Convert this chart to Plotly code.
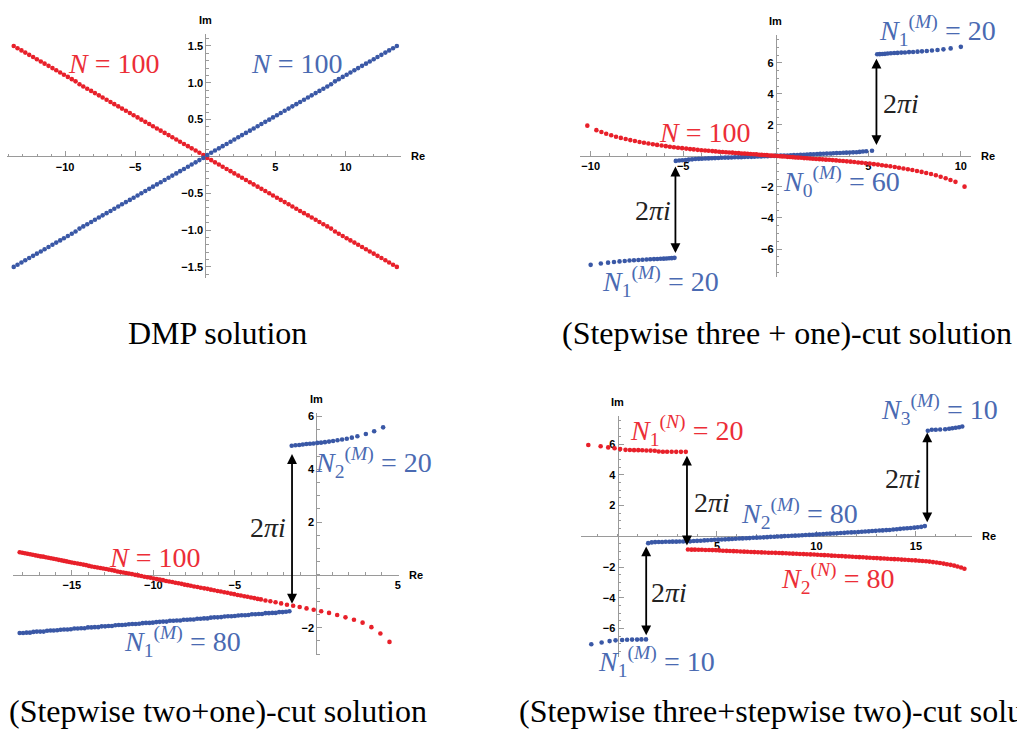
import plotly.graph_objects as go

W, H = 1017, 729

# ---------------- data ----------------
# Panel 1: DMP solution
dmp_re = [-13.66, -13.39, -13.11, -12.84, -12.56, -12.28, -12.01, -11.73, -11.46, -11.18,
          -10.90, -10.63, -10.35, -10.08, -9.80, -9.52, -9.25, -8.97, -8.70, -8.42,
          -8.14, -7.87, -7.59, -7.32, -7.04, -6.76, -6.49, -6.21, -5.94, -5.66,
          -5.38, -5.11, -4.83, -4.56, -4.28, -4.00, -3.73, -3.45, -3.18, -2.90,
          -2.62, -2.35, -2.07, -1.80, -1.52, -1.24, -0.97, -0.69, -0.42, -0.14,
          0.14, 0.42, 0.69, 0.97, 1.24, 1.52, 1.80, 2.07, 2.35, 2.62,
          2.90, 3.18, 3.45, 3.73, 4.00, 4.28, 4.56, 4.83, 5.11, 5.38,
          5.66, 5.94, 6.21, 6.49, 6.76, 7.04, 7.32, 7.59, 7.87, 8.14,
          8.42, 8.70, 8.97, 9.25, 9.52, 9.80, 10.08, 10.35, 10.63, 10.90,
          11.18, 11.46, 11.73, 12.01, 12.28, 12.56, 12.84, 13.11, 13.39, 13.66]
dmp_im_m = [-1.50, -1.47, -1.44, -1.41, -1.38, -1.35, -1.32, -1.29, -1.26, -1.23,
            -1.20, -1.17, -1.14, -1.11, -1.08, -1.05, -1.02, -0.98, -0.95, -0.92,
            -0.89, -0.86, -0.83, -0.80, -0.77, -0.74, -0.71, -0.68, -0.65, -0.62,
            -0.59, -0.56, -0.53, -0.50, -0.47, -0.44, -0.41, -0.38, -0.35, -0.32,
            -0.29, -0.26, -0.23, -0.20, -0.17, -0.14, -0.11, -0.08, -0.05, -0.02,
            0.02, 0.05, 0.08, 0.11, 0.14, 0.17, 0.20, 0.23, 0.26, 0.29,
            0.32, 0.35, 0.38, 0.41, 0.44, 0.47, 0.50, 0.53, 0.56, 0.59,
            0.62, 0.65, 0.68, 0.71, 0.74, 0.77, 0.80, 0.83, 0.86, 0.89,
            0.92, 0.95, 0.98, 1.02, 1.05, 1.08, 1.11, 1.14, 1.17, 1.20,
            1.23, 1.26, 1.29, 1.32, 1.35, 1.38, 1.41, 1.44, 1.47, 1.50]
dmp_im_n = [1.50, 1.47, 1.44, 1.41, 1.38, 1.35, 1.32, 1.29, 1.26, 1.23,
            1.20, 1.17, 1.14, 1.11, 1.08, 1.05, 1.02, 0.98, 0.95, 0.92,
            0.89, 0.86, 0.83, 0.80, 0.77, 0.74, 0.71, 0.68, 0.65, 0.62,
            0.59, 0.56, 0.53, 0.50, 0.47, 0.44, 0.41, 0.38, 0.35, 0.32,
            0.29, 0.26, 0.23, 0.20, 0.17, 0.14, 0.11, 0.08, 0.05, 0.02,
            -0.02, -0.05, -0.08, -0.11, -0.14, -0.17, -0.20, -0.23, -0.26, -0.29,
            -0.32, -0.35, -0.38, -0.41, -0.44, -0.47, -0.50, -0.53, -0.56, -0.59,
            -0.62, -0.65, -0.68, -0.71, -0.74, -0.77, -0.80, -0.83, -0.86, -0.89,
            -0.92, -0.95, -0.98, -1.02, -1.05, -1.08, -1.11, -1.14, -1.17, -1.20,
            -1.23, -1.26, -1.29, -1.32, -1.35, -1.38, -1.41, -1.44, -1.47, -1.50]

# Panel 2: (stepwise three + one)-cut
s31_n_re = [-10.18, -9.69, -9.42, -9.16, -8.89, -8.63, -8.37, -8.11, -7.86, -7.61,
            -7.36, -7.12, -6.88, -6.64, -6.41, -6.17, -5.94, -5.72, -5.50, -5.28,
            -5.06, -4.84, -4.63, -4.43, -4.22, -4.02, -3.82, -3.63, -3.43, -3.25,
            -3.06, -2.87, -2.69, -2.52, -2.34, -2.17, -2.00, -1.84, -1.68, -1.52,
            -1.36, -1.20, -1.05, -0.90, -0.76, -0.62, -0.48, -0.34, -0.21, -0.08,
            0.09, 0.22, 0.35, 0.49, 0.63, 0.77, 0.92, 1.06, 1.21, 1.37,
            1.53, 1.69, 1.85, 2.01, 2.18, 2.36, 2.53, 2.71, 2.89, 3.07,
            3.26, 3.45, 3.64, 3.84, 4.04, 4.24, 4.45, 4.65, 4.86,
            5.08, 5.30, 5.52, 5.74, 5.96, 6.19, 6.43, 6.66, 6.90, 7.14,
            7.38, 7.63, 7.88, 8.13, 8.39, 8.65, 8.91, 9.18, 9.44, 9.71, 10.20]
s31_n_im = [1.95, 1.66, 1.54, 1.43, 1.33, 1.24, 1.16, 1.09, 1.02, 0.96,
            0.90, 0.85, 0.80, 0.75, 0.71, 0.67, 0.63, 0.59, 0.56, 0.53,
            0.50, 0.47, 0.44, 0.42, 0.39, 0.37, 0.35, 0.33, 0.31, 0.29,
            0.27, 0.25, 0.24, 0.22, 0.21, 0.19, 0.18, 0.16, 0.15, 0.14,
            0.12, 0.11, 0.10, 0.08, 0.07, 0.06, 0.05, 0.03, 0.02, 0.01,
            -0.01, -0.02, -0.03, -0.04, -0.06, -0.07, -0.08, -0.10, -0.11, -0.12,
            -0.14, -0.15, -0.17, -0.18, -0.20, -0.21, -0.22, -0.24, -0.25, -0.27,
            -0.29, -0.31, -0.33, -0.35, -0.37, -0.39, -0.42, -0.44, -0.47,
            -0.50, -0.53, -0.56, -0.60, -0.63, -0.67, -0.71, -0.76, -0.81, -0.86,
            -0.91, -0.97, -1.03, -1.10, -1.17, -1.25, -1.34, -1.44, -1.55, -1.67, -1.98]
s31_m0_re = [-5.40, -5.22, -5.05, -4.87, -4.70, -4.52, -4.34, -4.16, -3.99, -3.81,
             -3.63, -3.45, -3.28, -3.10, -2.92, -2.74, -2.57, -2.39, -2.21, -2.03,
             -1.86, -1.68, -1.50, -1.32, -1.15, -0.97, -0.79, -0.61, -0.44, -0.26,
             -0.08, 0.10, 0.27, 0.45, 0.63, 0.81, 0.98, 1.16, 1.34, 1.52,
             1.69, 1.87, 2.05, 2.23, 2.40, 2.58, 2.76, 2.94, 3.11, 3.29,
             3.47, 3.65, 3.82, 4.00, 4.18, 4.36, 4.53, 4.71, 4.89, 5.20]
s31_m0_im = [-0.32, -0.30, -0.28, -0.26, -0.24, -0.22, -0.20, -0.19, -0.18, -0.17,
             -0.16, -0.15, -0.14, -0.13, -0.12, -0.11, -0.11, -0.10, -0.09, -0.09,
             -0.08, -0.07, -0.06, -0.06, -0.05, -0.04, -0.03, -0.02, -0.02, -0.01,
             0.00, 0.01, 0.02, 0.03, 0.03, 0.04, 0.05, 0.06, 0.07, 0.08,
             0.09, 0.10, 0.11, 0.12, 0.13, 0.14, 0.15, 0.16, 0.17, 0.18,
             0.19, 0.20, 0.21, 0.22, 0.23, 0.24, 0.26, 0.28, 0.30, 0.33]
s31_m1u_re = [5.48, 5.62, 5.76, 5.90, 6.05, 6.22, 6.40, 6.58, 6.78, 6.98,
              7.20, 7.42, 7.66, 7.90, 8.16, 8.44, 8.74, 9.06, 9.45, 10.00]
s31_m1u_im = [6.55, 6.56, 6.57, 6.58, 6.60, 6.62, 6.63, 6.64, 6.66, 6.67,
              6.69, 6.70, 6.72, 6.74, 6.76, 6.79, 6.83, 6.87, 6.93, 7.03]
s31_m1l_re = [-10.00, -9.45, -9.06, -8.74, -8.44, -8.16, -7.90, -7.66, -7.42, -7.20,
              -6.98, -6.78, -6.58, -6.40, -6.22, -6.05, -5.90, -5.76, -5.62, -5.47]
s31_m1l_im = [-7.02, -6.93, -6.88, -6.84, -6.80, -6.77, -6.74, -6.72, -6.71, -6.69,
              -6.68, -6.66, -6.65, -6.64, -6.63, -6.62, -6.61, -6.60, -6.59, -6.57]

# Panel 3: (stepwise two + one)-cut
s21_n_re = [-18.20, -18.04, -17.88, -17.72, -17.56, -17.40, -17.24, -17.08, -16.92, -16.76,
            -16.60, -16.44, -16.28, -16.12, -15.96, -15.80, -15.64, -15.48, -15.32, -15.16,
            -15.00, -14.83, -14.65, -14.48, -14.30, -14.13, -13.95, -13.78, -13.60, -13.43,
            -13.25, -13.08, -12.90, -12.73, -12.55, -12.38, -12.20, -12.03, -11.85, -11.68,
            -11.50, -11.31, -11.12, -10.93, -10.74, -10.55, -10.36, -10.17, -9.98, -9.79,
            -9.60, -9.41, -9.22, -9.03, -8.84, -8.65, -8.46, -8.27, -8.08, -7.89,
            -7.70, -7.50, -7.29, -7.09, -6.88, -6.68, -6.47, -6.27, -6.06, -5.86,
            -5.65, -5.45, -5.24, -5.04, -4.83, -4.63, -4.42, -4.22, -4.01, -3.81,
            -3.60, -3.40, -3.12, -2.82, -2.50, -2.16, -1.80, -1.42, -1.02, -0.60,
            -0.16, 0.30, 0.78, 1.28, 1.79, 2.31, 2.84, 3.38, 3.93, 4.49]
s21_n_im = [0.86, 0.84, 0.82, 0.80, 0.78, 0.76, 0.74, 0.72, 0.70, 0.69,
            0.67, 0.65, 0.63, 0.61, 0.59, 0.57, 0.55, 0.53, 0.51, 0.49,
            0.47, 0.45, 0.43, 0.41, 0.39, 0.37, 0.34, 0.32, 0.30, 0.28,
            0.26, 0.24, 0.22, 0.20, 0.18, 0.16, 0.13, 0.11, 0.09, 0.07,
            0.05, 0.03, 0.00, -0.02, -0.04, -0.07, -0.09, -0.11, -0.14, -0.16,
            -0.18, -0.20, -0.23, -0.25, -0.27, -0.30, -0.32, -0.34, -0.37, -0.39,
            -0.41, -0.44, -0.46, -0.49, -0.51, -0.53, -0.56, -0.58, -0.61, -0.63,
            -0.66, -0.68, -0.71, -0.73, -0.76, -0.78, -0.81, -0.83, -0.86, -0.88,
            -0.91, -0.93, -0.97, -1.00, -1.04, -1.08, -1.13, -1.17, -1.22, -1.27,
            -1.32, -1.38, -1.44, -1.52, -1.61, -1.70, -1.81, -1.98, -2.22, -2.54]
s21_m1_re = [-18.20, -17.99, -17.78, -17.57, -17.36, -17.15, -16.94, -16.73, -16.52, -16.31,
             -16.11, -15.90, -15.69, -15.48, -15.27, -15.06, -14.85, -14.64, -14.43, -14.22,
             -14.01, -13.80, -13.59, -13.38, -13.17, -12.96, -12.75, -12.54, -12.33, -12.12,
             -11.92, -11.71, -11.50, -11.29, -11.08, -10.87, -10.66, -10.45, -10.24, -10.03,
             -9.82, -9.61, -9.40, -9.19, -8.98, -8.77, -8.56, -8.35, -8.14, -7.93,
             -7.73, -7.52, -7.31, -7.10, -6.89, -6.68, -6.47, -6.26, -6.05, -5.84,
             -5.63, -5.42, -5.21, -5.00, -4.79, -4.58, -4.37, -4.16, -3.95, -3.74,
             -3.53, -3.33, -3.12, -2.91, -2.70, -2.49, -2.28, -2.07, -1.86, -1.65]
s21_m1_im = [-2.20, -2.20, -2.19, -2.19, -2.16, -2.15, -2.15, -2.15, -2.12, -2.11,
             -2.11, -2.10, -2.08, -2.07, -2.07, -2.06, -2.03, -2.03, -2.02, -2.02,
             -1.99, -1.99, -1.98, -1.98, -1.95, -1.95, -1.94, -1.94, -1.91, -1.90,
             -1.90, -1.89, -1.87, -1.86, -1.86, -1.85, -1.83, -1.82, -1.82, -1.81,
             -1.79, -1.78, -1.77, -1.77, -1.74, -1.74, -1.73, -1.73, -1.70, -1.70,
             -1.69, -1.69, -1.66, -1.66, -1.65, -1.65, -1.62, -1.61, -1.61, -1.60,
             -1.58, -1.57, -1.57, -1.56, -1.54, -1.53, -1.53, -1.52, -1.49, -1.49,
             -1.48, -1.48, -1.45, -1.45, -1.44, -1.44, -1.41, -1.41, -1.40, -1.38]
s21_m2_re = [-1.51, -1.28, -1.05, -0.83, -0.61, -0.39, -0.17, 0.06, 0.29, 0.53,
             0.78, 1.03, 1.30, 1.58, 1.87, 2.18, 2.52, 3.04, 3.55, 4.10]
s21_m2_im = [4.89, 4.91, 4.92, 4.94, 4.96, 4.97, 4.98, 5.00, 5.01, 5.03,
             5.05, 5.07, 5.10, 5.13, 5.16, 5.20, 5.25, 5.34, 5.44, 5.59]

# Panel 4: (stepwise three + stepwise two)-cut
s32_n1_re = [-1.47, -0.85, -0.47, -0.15, 0.13, 0.40, 0.62, 0.83, 1.04, 1.24,
             1.45, 1.66, 1.87, 2.07, 2.28, 2.49, 2.72, 2.95, 3.19, 3.43]
s32_n1_im = [5.93, 5.85, 5.78, 5.72, 5.67, 5.62, 5.61, 5.60, 5.60, 5.59,
             5.58, 5.57, 5.56, 5.51, 5.50, 5.50, 5.50, 5.49, 5.49, 5.49]
s32_n2_re = [3.54, 3.72, 3.89, 4.07, 4.24, 4.42, 4.60, 4.77, 4.95, 5.12,
             5.30, 5.48, 5.65, 5.83, 6.00, 6.18, 6.36, 6.53, 6.71, 6.88,
             7.06, 7.24, 7.41, 7.59, 7.76, 7.94, 8.12, 8.29, 8.47, 8.64,
             8.82, 9.00, 9.17, 9.35, 9.52, 9.70, 9.88, 10.05, 10.23, 10.40,
             10.58, 10.76, 10.93, 11.11, 11.28, 11.46, 11.64, 11.81, 11.99, 12.16,
             12.34, 12.52, 12.69, 12.87, 13.04, 13.22, 13.40, 13.57, 13.75, 13.92,
             14.10, 14.28, 14.45, 14.63, 14.80, 14.98, 15.16, 15.33, 15.51, 15.68,
             15.86, 16.04, 16.21, 16.39, 16.56, 16.74, 16.92, 17.09, 17.27, 17.44]
s32_n2_im = [-0.86, -0.87, -0.87, -0.88, -0.88, -0.89, -0.89, -0.90, -0.91, -0.92,
             -0.94, -0.95, -0.96, -0.97, -0.98, -0.99, -1.00, -1.01, -1.02, -1.03,
             -1.04, -1.05, -1.06, -1.07, -1.07, -1.08, -1.09, -1.10, -1.11, -1.12,
             -1.13, -1.14, -1.15, -1.16, -1.17, -1.18, -1.19, -1.20, -1.22, -1.23,
             -1.24, -1.26, -1.27, -1.28, -1.29, -1.31, -1.32, -1.33, -1.35, -1.36,
             -1.37, -1.39, -1.40, -1.41, -1.42, -1.44, -1.45, -1.46, -1.48, -1.49,
             -1.50, -1.52, -1.53, -1.54, -1.56, -1.57, -1.59, -1.61, -1.63, -1.65,
             -1.68, -1.71, -1.74, -1.78, -1.82, -1.86, -1.91, -1.97, -2.03, -2.11]
s32_m1_re = [-1.32, -0.80, -0.40, -0.10, 0.23, 0.48, 0.73, 0.98, 1.20, 1.43]
s32_m1_im = [-7.02, -6.91, -6.82, -6.77, -6.75, -6.73, -6.72, -6.72, -6.71, -6.71]
s32_m2_re = [1.54, 1.72, 1.89, 2.07, 2.24, 2.42, 2.60, 2.77, 2.95, 3.12,
             3.30, 3.48, 3.65, 3.83, 4.00, 4.18, 4.36, 4.53, 4.71, 4.88,
             5.06, 5.24, 5.41, 5.59, 5.76, 5.94, 6.12, 6.29, 6.47, 6.64,
             6.82, 7.00, 7.17, 7.35, 7.52, 7.70, 7.88, 8.05, 8.23, 8.40,
             8.58, 8.76, 8.93, 9.11, 9.28, 9.46, 9.64, 9.81, 9.99, 10.16,
             10.34, 10.52, 10.69, 10.87, 11.04, 11.22, 11.40, 11.57, 11.75, 11.92,
             12.10, 12.28, 12.45, 12.63, 12.80, 12.98, 13.16, 13.33, 13.51, 13.68,
             13.86, 14.04, 14.21, 14.39, 14.56, 14.74, 14.92, 15.09, 15.27, 15.45]
s32_m2_im = [-0.45, -0.40, -0.38, -0.37, -0.37, -0.36, -0.36, -0.35, -0.35, -0.34,
             -0.34, -0.33, -0.33, -0.31, -0.30, -0.29, -0.27, -0.26, -0.24, -0.23,
             -0.22, -0.21, -0.20, -0.19, -0.18, -0.16, -0.15, -0.14, -0.13, -0.12,
             -0.10, -0.09, -0.08, -0.07, -0.06, -0.04, -0.03, -0.02, -0.01, 0.01,
             0.02, 0.03, 0.04, 0.05, 0.07, 0.08, 0.09, 0.10, 0.12, 0.13,
             0.14, 0.16, 0.17, 0.18, 0.20, 0.21, 0.22, 0.24, 0.25, 0.26,
             0.28, 0.29, 0.31, 0.32, 0.34, 0.35, 0.37, 0.38, 0.40, 0.41,
             0.44, 0.46, 0.48, 0.50, 0.52, 0.54, 0.56, 0.59, 0.61, 0.66]
s32_m3_re = [15.60, 15.80, 16.00, 16.22, 16.47, 16.67, 16.83, 17.00, 17.17, 17.33]
s32_m3_im = [6.86, 6.93, 6.93, 6.94, 6.96, 6.99, 7.02, 7.06, 7.09, 7.14]

# 2*pi*i arrows: (panel, Re, Im top, Im bottom)
arrows = [(2, 5.44, 6.27, 0.60), (2, -5.42, -0.69, -6.36),
          (3, -1.49, 4.58, -1.15),
          (4, 3.49, 5.24, -0.70), (4, 1.44, -0.66, -6.54), (4, 15.57, 6.75, 0.81)]

captions = ["DMP solution", "(Stepwise three + one)-cut solution",
            "(Stepwise two+one)-cut solution", "(Stepwise three+stepwise two)-cut solution"]

# ---------------- styles ----------------
RED = "#e8202a"
BLUE = "#3a58a6"
RED_T = "#ec2e37"
BLUE_T = "#4a6ab2"
AXC = "#9a9a9a"
MS = 4.6
SERIF = "Liberation Serif"
SANS = "Liberation Sans"
LBL = 28
CAP = 32

# panel boxes in pixels: (left, right), (top, bottom) and ranges
panels = {
    1: dict(px=(7.3, 401.7), py=(32.3, 276.7), xr=(-14.12, 13.95), yr=(-1.65, 1.66),
            xt=[-10, -5, 5, 10], yt=[-1.5, -1.0, -0.5, 0.5, 1.0, 1.5], xm=1, ym=0.1, yfmt=".1f"),
    2: dict(px=(580.7, 973.3), py=(33.3, 276.0), xr=(-10.6, 10.57), yr=(-7.82, 7.78),
            xt=[-10, -5, 5, 10], yt=[-6, -4, -2, 2, 4, 6], xm=1, ym=0.5, yfmt="d"),
    3: dict(px=(12.7, 399.4), py=(411.7, 654.9), xr=(-18.63, 5.05), yr=(-3.04, 6.15),
            xt=[-15, -10, -5, 5], yt=[-2, 2, 4, 6], xm=1, ym=0.5, yfmt="d"),
    4: dict(px=(581.7, 973.5), py=(415.0, 656.6), xr=(-1.86, 17.8), yr=(-7.84, 7.83),
            xt=[5, 10, 15], yt=[-6, -4, -2, 2, 4, 6], xm=1, ym=0.5, yfmt="d"),
}

fig = go.Figure()


def ax_names(i):
    return ("x" if i == 1 else f"x{i}"), ("y" if i == 1 else f"y{i}")


def to_paper(i, x, y):
    p = panels[i]
    xd = [p["px"][0] / W, p["px"][1] / W]
    yd = [1 - p["py"][1] / H, 1 - p["py"][0] / H]
    xr, yr = p["xr"], p["yr"]
    return (xd[0] + (x - xr[0]) / (xr[1] - xr[0]) * (xd[1] - xd[0]),
            yd[0] + (y - yr[0]) / (yr[1] - yr[0]) * (yd[1] - yd[0]))


def pts(i, xs, ys, color):
    xa, ya = ax_names(i)
    fig.add_trace(go.Scatter(x=xs, y=ys, mode="markers", xaxis=xa, yaxis=ya,
                             marker=dict(color=color, size=MS, line=dict(width=0)),
                             cliponaxis=False, showlegend=False, hoverinfo="skip"))


pts(1, dmp_re, dmp_im_n, RED)
pts(1, dmp_re, dmp_im_m, BLUE)
pts(2, s31_m0_re, s31_m0_im, BLUE)
pts(2, s31_m1u_re, s31_m1u_im, BLUE)
pts(2, s31_m1l_re, s31_m1l_im, BLUE)
pts(2, s31_n_re, s31_n_im, RED)
pts(3, s21_m1_re, s21_m1_im, BLUE)
pts(3, s21_m2_re, s21_m2_im, BLUE)
pts(3, s21_n_re, s21_n_im, RED)
pts(4, s32_m1_re, s32_m1_im, BLUE)
pts(4, s32_m2_re, s32_m2_im, BLUE)
pts(4, s32_m3_re, s32_m3_im, BLUE)
pts(4, s32_n1_re, s32_n1_im, RED)
pts(4, s32_n2_re, s32_n2_im, RED)

tickfont = dict(family=SANS, size=11, color="black", weight="bold")
layout_axes = {}
annotations = []
for i, p in panels.items():
    xd = [p["px"][0] / W, p["px"][1] / W]
    yd = [1 - p["py"][1] / H, 1 - p["py"][0] / H]
    xr, yr = p["xr"], p["yr"]
    xpos0, ypos0 = to_paper(i, 0, 0)
    common = dict(showgrid=False, zeroline=False, showline=True, linecolor=AXC, linewidth=1,
                  ticks="inside", ticklen=5, tickwidth=1, tickcolor=AXC, tickfont=tickfont,
                  anchor="free", fixedrange=True, layer="below traces", tickmode="array")
    xkey = "xaxis" if i == 1 else f"xaxis{i}"
    ykey = "yaxis" if i == 1 else f"yaxis{i}"
    layout_axes[xkey] = dict(common, domain=xd, range=list(xr), position=ypos0,
                             tickvals=p["xt"],
                             minor=dict(tickmode="linear", tick0=0, dtick=p["xm"], ticks="inside",
                                        ticklen=2.5, tickcolor=AXC, showgrid=False))
    layout_axes[ykey] = dict(common, domain=yd, range=list(yr), position=xpos0,
                             tickvals=p["yt"], tickformat=(".1f" if p["yfmt"] == ".1f" else "d"),
                             minor=dict(tickmode="linear", tick0=0, dtick=p["ym"], ticks="inside",
                                        ticklen=2.5, tickcolor=AXC, showgrid=False))
    # axis names
    annotations.append(dict(x=xpos0, y=yd[1], xref="paper", yref="paper", text="<b>Im</b>",
                            showarrow=False, xanchor="center", yanchor="bottom", yshift=6,
                            font=dict(family=SANS, size=11, color="black")))
    annotations.append(dict(x=xd[1], y=ypos0, xref="paper", yref="paper", text="<b>Re</b>",
                            showarrow=False, xanchor="left", yanchor="middle", xshift=8,
                            font=dict(family=SANS, size=11, color="black")))


def label(i, x, y, text, color):
    px_, py_ = to_paper(i, x, y)
    annotations.append(dict(x=px_, y=py_, xref="paper", yref="paper", text=text, showarrow=False,
                            xanchor="center", yanchor="middle",
                            font=dict(family=SERIF, size=LBL, color=color)))


NN = "<i>N</i>"
label(1, -6.58, 1.26, NN + " = 100", RED_T)
label(1, 6.48, 1.26, NN + " = 100", BLUE_T)
label(2, -3.86, 1.50, NN + " = 100", RED_T)
label(2, 3.56, -1.65, NN + "<sub>0</sub><sup>(<i>M</i>)</sup> = 60", BLUE_T)
label(2, 8.73, 8.10, NN + "<sub>1</sub><sup>(<i>M</i>)</sup> = 20", BLUE_T)
label(2, -6.25, -8.08, NN + "<sub>1</sub><sup>(<i>M</i>)</sup> = 20", BLUE_T)
label(2, 6.79, 3.38, "2<i>πi</i>", "#222222")
label(2, -6.65, -3.53, "2<i>πi</i>", "#222222")
label(3, -9.93, 0.67, NN + " = 100", RED_T)
label(3, -8.19, -2.54, NN + "<sub>1</sub><sup>(<i>M</i>)</sup> = 80", BLUE_T)
label(3, 3.49, 4.26, NN + "<sub>2</sub><sup>(<i>M</i>)</sup> = 20", BLUE_T)
label(3, -2.98, 1.81, "2<i>πi</i>", "#222222")
label(4, 3.49, 6.86, NN + "<sub>1</sub><sup>(<i>N</i>)</sup> = 20", RED_T)
label(4, 9.13, 1.46, NN + "<sub>2</sub><sup>(<i>M</i>)</sup> = 80", BLUE_T)
label(4, 11.04, -2.76, NN + "<sub>2</sub><sup>(<i>N</i>)</sup> = 80", RED_T)
label(4, 16.17, 8.27, NN + "<sub>3</sub><sup>(<i>M</i>)</sup> = 10", BLUE_T)
label(4, 1.97, -8.16, NN + "<sub>1</sub><sup>(<i>M</i>)</sup> = 10", BLUE_T)
label(4, 4.75, 2.20, "2<i>πi</i>", "#222222")
label(4, 2.57, -3.63, "2<i>πi</i>", "#222222")
label(4, 14.37, 3.73, "2<i>πi</i>", "#222222")

for (i, xv, ytop, ybot) in arrows:
    xa, ya = ax_names(i)
    annotations.append(dict(x=xv, y=ytop, ax=xv, ay=ybot, xref=xa, yref=ya, axref=xa, ayref=ya,
                            text="", showarrow=True, arrowhead=2, startarrowhead=2,
                            arrowside="end+start", arrowsize=1.1, arrowwidth=1.8,
                            arrowcolor="black", standoff=0, startstandoff=0))

# captions (pixel positions converted to paper coords)
cap_pos = [(218, 332, "center"), (789, 332, "center"), (218, 711, "center"), (518, 711, "left")]
for txt, (cx, cy, anc) in zip(captions, cap_pos):
    annotations.append(dict(x=cx / W, y=1 - cy / H, xref="paper", yref="paper", text=txt,
                            showarrow=False, xanchor=anc, yanchor="middle",
                            font=dict(family=SERIF, size=CAP, color="black")))

fig.update_layout(width=W, height=H, margin=dict(l=0, r=0, t=0, b=0),
                  paper_bgcolor="white", plot_bgcolor="white",
                  annotations=annotations, showlegend=False, **layout_axes)

fig.write_html("out.html")
